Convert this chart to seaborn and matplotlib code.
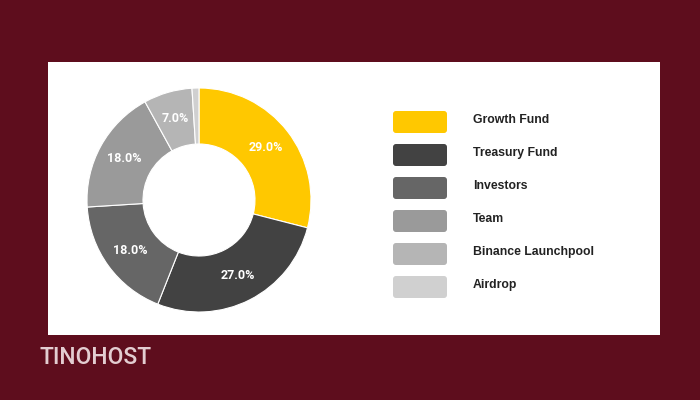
import matplotlib.pyplot as plt
import seaborn as sns
from matplotlib.patches import FancyBboxPatch, Rectangle

# data
labels = ['Growth Fund', 'Treasury Fund', 'Investors', 'Team', 'Binance Launchpool', 'Airdrop']
shares = [29, 27, 18, 18, 7, 1]
colors = ['#FFC800', '#424242', '#666666', '#9A9A9A', '#B5B5B5', '#D0D0D0']

sns.set_theme(style="white")
plt.rcParams['font.family'] = ['Roboto', 'DejaVu Sans']

fig = plt.figure(figsize=(7, 4), dpi=100, facecolor='#5E0D1D')

# background layer in pixel coordinates
bg = fig.add_axes([0, 0, 1, 1], zorder=0)
bg.set_xlim(0, 700)
bg.set_ylim(400, 0)
bg.axis('off')
bg.add_patch(Rectangle((48, 62), 612, 273, facecolor='white', edgecolor='none'))

# legend
for i, (lab, col) in enumerate(zip(labels, colors)):
    y = 122 + i * 33
    bg.add_patch(FancyBboxPatch((394, y - 10), 52, 20,
                                boxstyle='round,pad=1,rounding_size=3',
                                facecolor=col, edgecolor='none'))
    bg.text(473, y - 2, lab, fontsize=8.8, fontweight='bold', color='#222222',
            va='center', ha='left', family=['Liberation Sans', 'DejaVu Sans'])

bg.text(40, 358, 'TINOHOST', fontsize=16.5, fontweight='medium', color='#E3CDD1',
        va='center', ha='left')

# donut
ax = fig.add_axes([(199 - 112) / 700, (200 - 112) / 400, 224 / 700, 224 / 400], zorder=1)
wedges, texts, autotexts = ax.pie(
    shares, colors=colors, startangle=90, counterclock=False,
    autopct=lambda p: f'{p:.1f}%' if p >= 5 else '',
    pctdistance=0.76, radius=1,
    wedgeprops=dict(width=0.5, edgecolor='white', linewidth=0.8),
    textprops=dict(color='white', fontsize=9, fontweight='bold'))
ax.set_xlim(-1, 1)
ax.set_ylim(-1, 1)
ax.set_aspect('equal')
ax.axis('off')

fig.savefig('out.png', dpi=100, facecolor=fig.get_facecolor())
